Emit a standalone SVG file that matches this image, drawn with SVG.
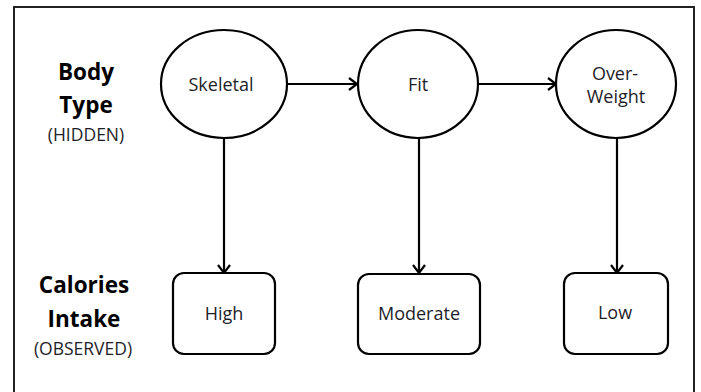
<svg xmlns="http://www.w3.org/2000/svg" width="701" height="392" viewBox="0 0 701 392">
  <defs>
    <marker id="arr" markerWidth="12" markerHeight="14" refX="10" refY="7" orient="auto" markerUnits="userSpaceOnUse">
      <path d="M2,1 L10,7 L2,13" fill="none" stroke="#000" stroke-width="2.2"/>
    </marker>
    <style>
      .node { fill: #fff; stroke: #000; stroke-width: 2.2; }
      .lbl { font-family: "Open Sans", "Liberation Sans", sans-serif; font-size: 18px; fill: #1e1e28; text-anchor: middle; }
      .side { font-family: "Open Sans", "Liberation Sans", sans-serif; font-size: 22.5px; font-weight: bold; fill: #000; text-anchor: middle; }
      .sub { font-family: "Open Sans", "Liberation Sans", sans-serif; font-size: 17.5px; fill: #1e1e28; text-anchor: middle; }
      .edge { stroke: #000; stroke-width: 2.2; fill: none; marker-end: url(#arr); }
    </style>
  </defs>
  <rect width="701" height="392" fill="#fff"/>
  <path d="M14,392 L14,7 L694,7 L694,392" fill="none" stroke="#222" stroke-width="2"/>

  <g id="labels">
    <text class="side" x="86" y="80">Body</text>
    <text class="side" x="86" y="113">Type</text>
    <text class="sub" x="86" y="141">(HIDDEN)</text>
    <text class="side" x="84" y="293">Calories</text>
    <text class="side" x="84" y="327">Intake</text>
    <text class="sub" x="83" y="355">(OBSERVED)</text>
  </g>

  <g id="connectors">
    <line class="edge" x1="287" y1="84" x2="357" y2="84"/>
    <line class="edge" x1="478" y1="84" x2="556" y2="84"/>
    <line class="edge" x1="224" y1="138" x2="224" y2="273"/>
    <line class="edge" x1="419" y1="138" x2="419" y2="273"/>
    <line class="edge" x1="617" y1="138" x2="617" y2="273"/>
  </g>

  <g id="skeletal">
    <ellipse class="node" cx="224" cy="84" rx="63" ry="54"/>
    <text class="lbl" x="221" y="91">Skeletal</text>
  </g>
  <g id="fit">
    <ellipse class="node" cx="418" cy="84" rx="60" ry="54"/>
    <text class="lbl" x="418" y="91">Fit</text>
  </g>
  <g id="overweight">
    <ellipse class="node" cx="616" cy="84" rx="60" ry="54"/>
    <text class="lbl" x="615" y="80">Over-</text>
    <text class="lbl" x="616" y="103">Weight</text>
  </g>
  <g id="high">
    <rect class="node" x="173" y="273" width="102" height="81" rx="11"/>
    <text class="lbl" x="224" y="320">High</text>
  </g>
  <g id="moderate">
    <rect class="node" x="358" y="274" width="122" height="80" rx="11"/>
    <text class="lbl" x="419" y="320">Moderate</text>
  </g>
  <g id="low">
    <rect class="node" x="564" y="273" width="104" height="81" rx="11"/>
    <text class="lbl" x="615" y="319">Low</text>
  </g>
</svg>
